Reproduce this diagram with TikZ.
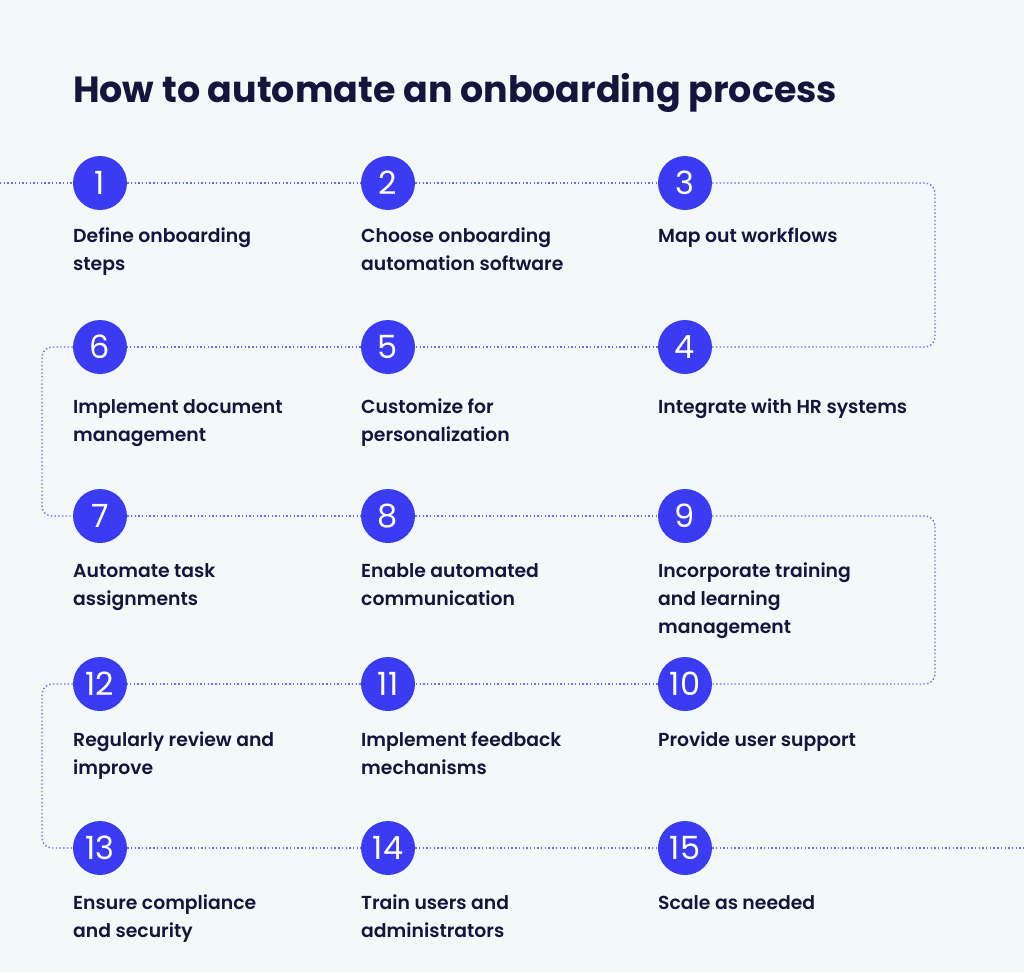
\documentclass[tikz,border=0pt]{standalone}
\usepackage{fontspec}
\setmainfont{Poppins}[UprightFont=* SemiBold, BoldFont=* Bold]
\newfontfamily\numfont{Poppins}[UprightFont=* Regular]
\usetikzlibrary{positioning, calc}
\definecolor{pagebg}{HTML}{F3F8F9}
\definecolor{stepblue}{HTML}{3B3BF4}
\definecolor{inkdark}{HTML}{14143C}
\definecolor{flowline}{HTML}{6A6AF2}
% testo su piu righe, allineato sulla prima riga
\newcommand{\steptext}[1]{\begin{tabular}[t]{@{}l@{}}#1\end{tabular}}
\tikzset{
  % cerchio numerato di un passo
  stepnum/.style={circle, fill=stepblue, minimum size=54pt, inner sep=0pt,
    text=white, font=\numfont\fontsize{32}{32}\selectfont},
  % testo sotto il cerchio
  steplbl/.style={anchor=base west, inner sep=0pt, text=inkdark,
    font=\fontsize{18.8}{28}\selectfont},
  % percorso punteggiato fra i passi
  flow/.style={flowline, line width=1.4pt, dash pattern=on 1.4pt off 2.3pt,
    rounded corners=10pt},
}
\begin{document}
\begin{tikzpicture}[x=1pt, y=-1pt]
  \fill[pagebg] (0,0) rectangle (1024,972);
  \useasboundingbox (0,0) rectangle (1024,972);
  \node[anchor=base west, inner sep=0pt, text=inkdark,
    font=\bfseries\fontsize{36.4}{40}\selectfont] (title) at (73,102)
    {How to automate an onboarding process};
  % passi
  \foreach \n/\x/\y/\b/\txt in {
      1/100/183/242/{Define onboarding\\steps},
      2/388/183/242/{Choose onboarding\\automation software},
      3/685/183/242/{Map out workflows},
      6/100/347/413/{Implement document\\management},
      5/388/347/413/{Customize for\\personalization},
      4/685/347/413/{Integrate with HR systems},
      7/100/516/577/{Automate task\\assignments},
      8/388/516/577/{Enable automated\\communication},
      9/685/516/577/{Incorporate training\\and learning\\management},
      12/100/684/746/{Regularly review and\\improve},
      11/388/684/746/{Implement feedback\\mechanisms},
      10/685/684/746/{Provide user support},
      13/100/848/909/{Ensure compliance\\and security},
      14/388/848/909/{Train users and\\administrators},
      15/685/848/909/{Scale as needed}} {
    \node[stepnum] (s\n) at (\x,\y) {\n};
    \node[steplbl] (t\n) at (\x-27,\b) {\steptext{\txt}};
  }
  % collegamenti
  \coordinate (in) at (0,183);
  \coordinate (out) at (1024,848);
  \coordinate (rgt) at (935,0);
  \coordinate (lft) at (42,0);
  \draw[flow] (in) -- (s1);
  \foreach \a/\c in {1/2, 2/3, 4/5, 5/6, 7/8, 8/9, 10/11, 11/12, 13/14, 14/15}
    \draw[flow] (s\a) -- (s\c);
  \draw[flow] (s3) -- (s3 -| rgt) -- (s4 -| rgt) -- (s4);
  \draw[flow] (s6) -- (s6 -| lft) -- (s7 -| lft) -- (s7);
  \draw[flow] (s9) -- (s9 -| rgt) -- (s10 -| rgt) -- (s10);
  \draw[flow] (s12) -- (s12 -| lft) -- (s13 -| lft) -- (s13);
  \draw[flow] (s15) -- (out);
\end{tikzpicture}
\end{document}
